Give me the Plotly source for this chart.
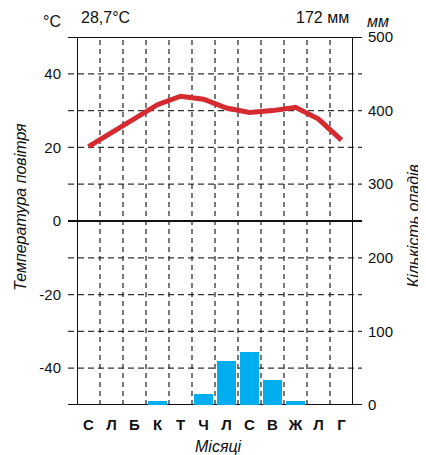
import plotly.graph_objects as go

months = ["С", "Л", "Б", "К", "Т", "Ч", "Л", "С", "В", "Ж", "Л", "Г"]
temperature = [20.2, 24.1, 27.8, 31.6, 33.9, 33.1, 30.7, 29.5, 30.0, 30.9, 27.7, 22.0]
precipitation = [0, 0, 0, 6, 0, 15, 60, 72, 34, 6, 0, 0]
temp_ticks = [-40, -20, 0, 20, 40]
temp_tick_labels = ["-40", "-20", "0", "20", "40"]
temp_grid = [-40, -30, -20, -10, 10, 20, 30, 40]
temp_solid = [-50, 0, 50]
precip_ticks = [0, 100, 200, 300, 400, 500]
precip_tick_labels = ["0", "100", "200", "300", "400", "500"]
mean_temp_label = "28,7°C"
total_precip_label = "172 мм"

FONT = "Liberation Sans, Arial, sans-serif"
x_idx = list(range(len(months)))

fig = go.Figure()
fig.add_trace(go.Bar(
    x=x_idx, y=precipitation, yaxis="y2", width=0.8,
    marker=dict(color="#00AEEF", line=dict(width=0)),
    showlegend=False,
))
fig.add_trace(go.Scatter(
    x=x_idx, y=temperature, mode="lines",
    line=dict(color="#D62A31", width=5),
    showlegend=False,
))

shapes = []
ext_l, ext_r = -9 / 276, 1 + 9 / 276
for t in temp_grid:
    shapes.append(dict(type="line", xref="paper", yref="y", x0=ext_l, x1=ext_r, y0=t, y1=t,
                       line=dict(color="#333333", width=1.2, dash="6px,4px"), layer="below"))
for t in temp_solid:
    shapes.append(dict(type="line", xref="paper", yref="y", x0=ext_l, x1=ext_r, y0=t, y1=t,
                       line=dict(color="#111111", width=2), layer="below"))
for i in range(len(months) - 1):
    xv = i + 0.5
    shapes.append(dict(type="line", xref="x", yref="paper", x0=xv, x1=xv, y0=0, y1=1,
                       line=dict(color="#222222", width=1.2, dash="5px,4px"), layer="below"))
for xv in (-0.5, len(months) - 0.5):
    shapes.append(dict(type="line", xref="x", yref="paper", x0=xv, x1=xv, y0=0, y1=1,
                       line=dict(color="#111111", width=2), layer="below"))

def ann(text, x, y, size=15, italic=False, angle=0, anchor="center"):
    return dict(text=text, xref="paper", yref="paper", x=x, y=y, showarrow=False,
                xanchor=anchor, yanchor="middle", textangle=angle,
                font=dict(family=FONT, size=size, color="#111111",
                          style="italic" if italic else "normal"))

annotations = [
    ann("°C", -0.0906, 1.0408, size=16),
    ann(mean_temp_label, 0.105, 1.054, size=16),
    ann(total_precip_label, 0.888, 1.054, size=16),
    ann("мм", 1.0906, 1.0408, size=16, italic=True),
    ann("Місяці", 0.511, -0.114, size=16, italic=True),
    ann("Температура повітря", -0.2065, 0.538, size=16, italic=True, angle=-90),
    ann("Кількість опадів", 1.2174, 0.486, size=16, italic=True, angle=-90),
]

fig.update_layout(
    width=418, height=447,
    margin=dict(l=69, r=73, t=29, b=50),
    paper_bgcolor="white", plot_bgcolor="white",
    font=dict(family=FONT, size=15, color="#111111"),
    bargap=0,
    xaxis=dict(range=[-0.5, 11.5], tickmode="array", tickvals=x_idx, ticktext=months,
               tickfont=dict(family=FONT, size=15, weight="bold", color="#111111"),
               ticks="outside", ticklen=6, tickcolor="rgba(0,0,0,0)",
               showgrid=False, zeroline=False, showline=False, fixedrange=True),
    yaxis=dict(range=[-50, 50], tickmode="array", tickvals=temp_ticks, ticktext=temp_tick_labels,
               ticks="outside", ticklen=9, tickcolor="rgba(0,0,0,0)",
               ticklabelstandoff=3,
               showgrid=False, zeroline=False, showline=False, fixedrange=True),
    yaxis2=dict(range=[0, 500], tickmode="array", tickvals=precip_ticks, ticktext=precip_tick_labels,
                overlaying="y", side="right", ticks="outside", ticklen=9,
                tickcolor="rgba(0,0,0,0)", ticklabelstandoff=2,
                showgrid=False, zeroline=False, showline=False, fixedrange=True),
    shapes=shapes,
    annotations=annotations,
)

fig.write_html("out.html")
